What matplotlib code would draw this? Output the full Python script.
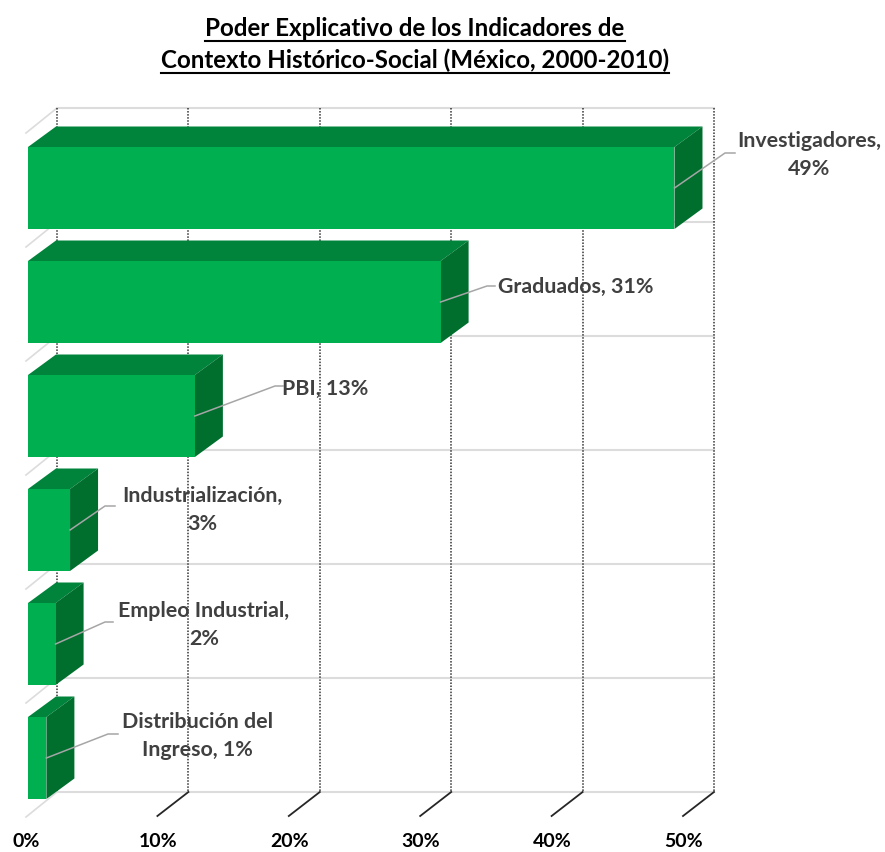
import matplotlib
matplotlib.use('Agg')
import matplotlib.pyplot as plt
from matplotlib.patches import Polygon
from matplotlib.lines import Line2D

plt.rcParams['font.family'] = ['Lato', 'DejaVu Sans']

# Datos
categorias = ['Investigadores', 'Graduados', 'PBI', 'Industrialización', 'Empleo Industrial', 'Distribución del Ingreso']
valores = [49.2, 31.4, 12.7, 3.2, 2.1, 1.4]
etiquetas = ['Investigadores,\n49%', 'Graduados, 31%', 'PBI, 13%', 'Industrialización,\n3%', 'Empleo Industrial,\n2%', 'Distribución del\nIngreso, 1%']
ticks = [0, 10, 20, 30, 40, 50]
tick_labels = ['0%', '10%', '20%', '30%', '40%', '50%']

W, H = 885, 852
PX_X0 = 28       # pixel del 0%
PX_PCT = 13.14   # pixeles por punto porcentual
PX_Y0 = 188      # centro de la primera barra
PX_CAT = 114     # pixeles por categoria

fig = plt.figure(figsize=(W / 100, H / 100), dpi=100)
ax = fig.add_axes([0, 0, 1, 1])
ax.set_xlim(-PX_X0 / PX_PCT, (W - PX_X0) / PX_PCT)
ax.set_ylim((H - PX_Y0) / PX_CAT, -PX_Y0 / PX_CAT)
ax.axis('off')


def px(x, y):
    return (x - PX_X0) / PX_PCT, (y - PX_Y0) / PX_CAT


# profundidad 3D y alto de barra, en unidades de datos
dx = 29 / PX_PCT
dx_barra = 28 / PX_PCT
dy = -20.5 / PX_CAT
alto = 82 / PX_CAT
n = len(valores)
y_fondo = [(108 + PX_CAT * i - PX_Y0) / PX_CAT for i in range(n + 1)]
y_piso = y_fondo[-1]
gris = '#dcdcdc'

# paredes: lineas horizontales y diagonales de la izquierda
for yf in y_fondo:
    ax.plot([dx, ticks[-1] + dx], [yf, yf], color=gris, lw=1.5, zorder=1)
    ax.plot([dx - 31 / PX_PCT, dx], [yf + 25 / PX_CAT, yf], color=gris, lw=1.2, zorder=1)

# lineas verticales punteadas y marcas del eje
for t, lab in zip(ticks, tick_labels):
    ax.plot([t + dx, t + dx], [y_fondo[0], y_piso], color='#333333', lw=1.1, ls=(0, (1, 1)), zorder=1)
    if t > 0:
        ax.plot([t + dx - 31 / PX_PCT, t + dx], [y_piso + 24 / PX_CAT, y_piso], color='#262626', lw=1.3, zorder=2)
    ax.text(t - 0.1, px(0, 841)[1], lab, ha='center', va='center', fontsize=14, fontweight='bold', color='black')

# barras: frente, tapa y lateral
for i, v in enumerate(valores):
    y0, y1 = i - alto / 2, i + alto / 2
    ax.add_patch(Polygon([(0, y0), (dx_barra, y0 + dy), (v + dx_barra, y0 + dy), (v, y0)], fc='#00843B', ec='none', zorder=3))
    ax.add_patch(Polygon([(v, y0), (v + dx_barra, y0 + dy), (v + dx_barra, y1 + dy), (v, y1)], fc='#006F2E', ec='none', zorder=3))
    ax.add_patch(Polygon([(0, y0), (v, y0), (v, y1), (0, y1)], fc='#00B050', ec='none', zorder=4))

# lineas guia y etiquetas
guias = [(725, 153, 735), (487, 286, 495), (275, 386, 283), (105, 506, 115), (105, 622, 113), (108, 734, 118)]
pos_etiquetas = [(809, 155), (576, 287), (325, 389), (202, 510), (204, 625), (197, 736)]
for i, v in enumerate(valores):
    gx, gy, gx2 = guias[i]
    a, b = px(gx, gy)
    c, _ = px(gx2, gy)
    ax.plot([v, a, c], [i, b, b], color='#a6a6a6', lw=1.1, zorder=5)
    tx, ty = px(*pos_etiquetas[i])
    ax.text(tx, ty, etiquetas[i], ha='center', va='center', fontsize=15.4, fontweight='bold',
            color='#404040', linespacing=1.5, zorder=6)

# titulo subrayado
fig.canvas.draw()
rend = fig.canvas.get_renderer()
for linea, yp in zip(['Poder Explicativo de los Indicadores de',
                      'Contexto Histórico-Social (México, 2000-2010)'], [28, 60]):
    t = fig.text(415 / W, 1 - yp / H, linea, ha='center', va='center', fontsize=17.4, fontweight='bold', color='black')
    bb = t.get_window_extent(rend)
    fig.add_artist(Line2D([bb.x0 / W, bb.x1 / W], [1 - (yp + 13) / H] * 2, color='black', lw=1.5))

fig.savefig('out.png', dpi=100)
